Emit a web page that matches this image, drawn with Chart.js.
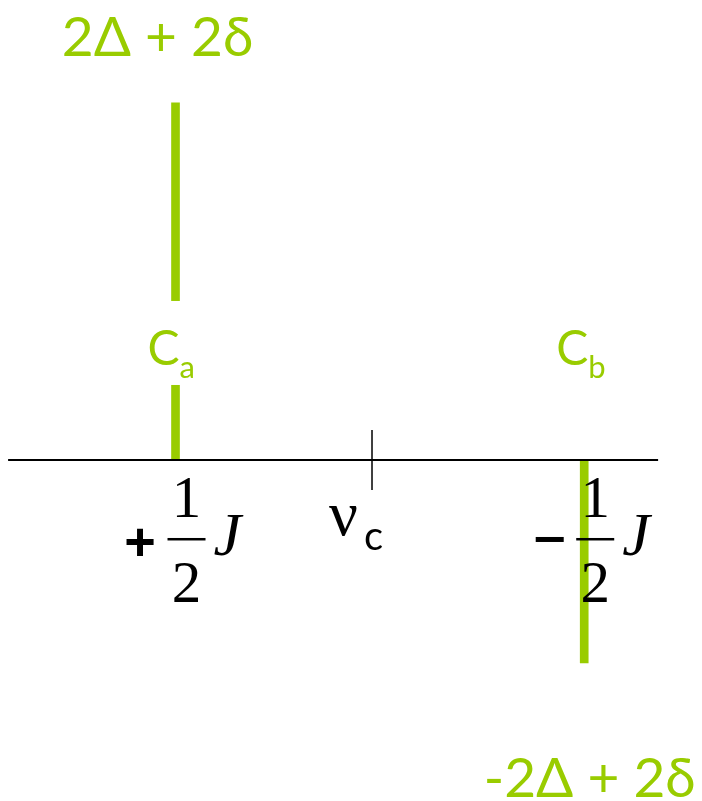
<!DOCTYPE html>
<html>
<head>
<meta charset="utf-8">
<script src="https://cdn.jsdelivr.net/npm/chart.js@4"></script>
<style>
  html, body { margin: 0; padding: 0; background: #fff; }
  #wrap { width: 702px; height: 801px; position: relative; }
</style>
</head>
<body>
<div id="wrap"><canvas id="chart"></canvas></div>
<script>
// line positions relative to the centre frequency (units of J, + to the left)
const peakShifts = [0.5, -0.54];
// signed line intensities
const peakIntensities = [1.76, -1.0];
const peakNames = ['a', 'b'];
const intensityLabels = ['2Δ + 2δ', '-2Δ + 2δ'];
const shiftSigns = ['+', '−'];
// drawn extent of the frequency axis
const axisRange = [0.926, -0.728];
const centerShift = 0;

const green = '#99cc00';

// horizontal offsets of the intensity labels from their bar
const intensityLabelDx = [-18, 5.5];

const annotations = {
  id: 'annotations',
  afterDatasetsDraw(chart) {
    const ctx = chart.ctx;
    const xs = chart.scales.x, ys = chart.scales.y;
    const y0 = ys.getPixelForValue(0);
    ctx.save();
    ctx.textBaseline = 'alphabetic';

    // centre tick and its label
    const xc = xs.getPixelForValue(centerShift);
    ctx.strokeStyle = '#000';
    ctx.lineWidth = 1.5;
    ctx.beginPath();
    ctx.moveTo(xc, y0 - 30);
    ctx.lineTo(xc, y0 + 30);
    ctx.stroke();
    ctx.fillStyle = '#000';
    ctx.textAlign = 'left';
    ctx.font = '64px "Liberation Serif"';
    ctx.fillText('ν', xc - 43, y0 + 75);
    ctx.font = '40px Lato';
    ctx.fillText('c', xc - 8, y0 + 90);

    peakShifts.forEach((s, i) => {
      const xp = xs.getPixelForValue(s);
      const yp = ys.getPixelForValue(peakIntensities[i]);
      const up = peakIntensities[i] > 0;

      // carbon label, the bar is broken around it
      const ly = y0 - 95;
      if (up) {
        ctx.fillStyle = '#fff';
        ctx.fillRect(xp - 6, y0 - 159, 12, 84);
      }
      ctx.fillStyle = green;
      ctx.textAlign = 'left';
      ctx.font = '48px Lato';
      ctx.fillText('C', xp - 28, ly);
      const cw = ctx.measureText('C').width;
      ctx.font = '31px Lato';
      ctx.fillText(peakNames[i], xp - 28 + cw, ly + 13);

      // intensity at the end of the bar
      ctx.font = '55px Lato';
      ctx.textAlign = 'center';
      ctx.fillText(intensityLabels[i], xp + intensityLabelDx[i], up ? yp - 47 : yp + 134);

      // ±½J under the axis
      ctx.fillStyle = '#000';
      const fx = xp + 11;
      if (shiftSigns[i] === '+') {
        ctx.font = 'bold 54px "Liberation Sans"';
        ctx.fillText('+', xp - 35.5, y0 + 100);
      } else {
        ctx.fillRect(xp - 48.5, y0 + 77, 28, 5);
      }
      ctx.font = '59px "Liberation Serif"';
      ctx.fillText('1', fx, y0 + 57);
      ctx.fillRect(fx - 19, y0 + 78, 38, 2.5);
      ctx.fillText('2', fx, y0 + 142);
      ctx.textAlign = 'left';
      ctx.font = 'italic 62px "Liberation Serif"';
      ctx.fillText('J', xp + 38, y0 + 95);
    });
    ctx.restore();
  }
};

new Chart(document.getElementById('chart'), {
  type: 'bar',
  data: {
    datasets: [
      {
        type: 'line',
        data: axisRange.map(x => ({ x, y: 0 })),
        borderColor: '#000',
        borderWidth: 2,
        pointRadius: 0,
        order: 0
      },
      {
        type: 'bar',
        data: peakShifts.map((x, i) => ({ x, y: peakIntensities[i] })),
        backgroundColor: green,
        barThickness: 8,
        grouped: false,
        order: 1
      }
    ]
  },
  options: {
    responsive: true,
    maintainAspectRatio: false,
    animation: false,
    layout: { padding: 0 },
    plugins: { legend: { display: false }, tooltip: { enabled: false } },
    scales: {
      x: { type: 'linear', reverse: true, min: -0.8397, max: 0.9466, offset: false, display: false },
      y: { type: 'linear', min: -1.680, max: 2.266, display: false }
    }
  },
  plugins: [annotations]
});
</script>
</body>
</html>
